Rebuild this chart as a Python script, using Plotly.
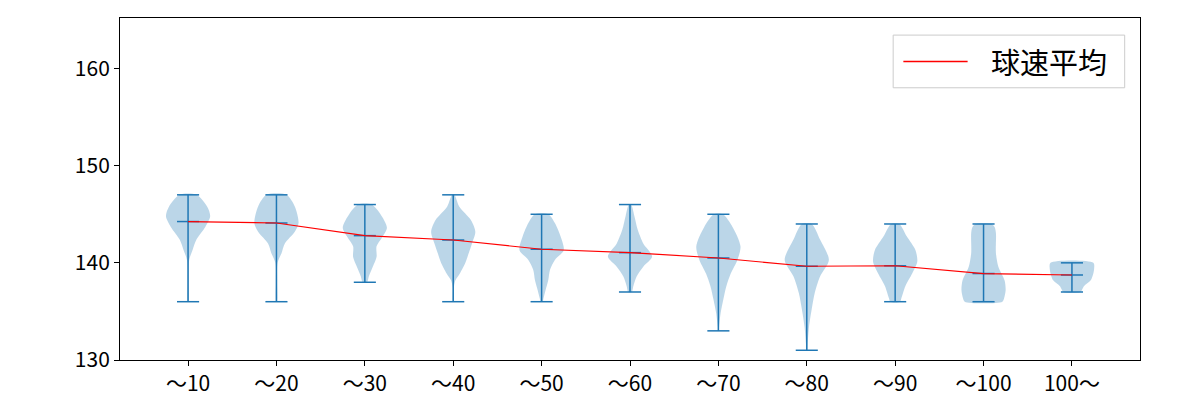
import plotly.graph_objects as go

categories = ["～10", "～20", "～30", "～40", "～50", "～60", "～70", "～80", "～90", "～100", "100～"]
mins = [136, 136, 138, 136, 136, 137, 133, 131, 136, 136, 137]
maxs = [147, 147, 146, 147, 145, 146, 145, 144, 144, 144, 140]
means = [144.25, 144.1, 142.8, 142.35, 141.4, 141.05, 140.5, 139.65, 139.7, 138.9, 138.75]

# density profiles (speed level -> relative width)
shape_levels = [
    [136, 138, 140.3, 141.3, 142.4, 143.7, 144.8, 145.8, 147],
    [136, 138, 140.0, 141.0, 142.0, 143.2, 144.1, 145.8, 147],
    [138, 138.6, 139.6, 140.6, 141.7, 142.5, 143.6, 145.1, 146],
    [136, 137.5, 138.2, 138.9, 140.0, 141.0, 142.0, 143.2, 144.4, 145.8, 147],
    [136, 136.3, 137.2, 138.2, 139.3, 140.3, 141.3, 142.7, 144.1, 145],
    [137, 137.6, 138.6, 139.6, 140.65, 142.0, 143.4, 144.8, 146],
    [133, 133.4, 134.8, 136.2, 137.6, 138.9, 140.3, 141.7, 143.7, 145],
    [131, 131.7, 133.4, 135.2, 136.9, 138.6, 140.3, 142.4, 144],
    [136, 136.35, 137.6, 138.9, 140.1, 141.3, 142.7, 144],
    [136, 136.35, 137.2, 138.2, 139.6, 141.0, 143.05, 143.7, 144],
    [137, 137.6, 138.2, 139.3, 140],
]
shape_widths = [
    [0.02, 0.03, 0.05, 0.2, 0.38, 0.78, 1.0, 0.86, 0.38],
    [0.02, 0.03, 0.05, 0.23, 0.38, 0.83, 1.0, 0.83, 0.45],
    [0.1, 0.18, 0.36, 0.53, 0.53, 0.75, 1.0, 0.68, 0.3],
    [0.02, 0.03, 0.1, 0.3, 0.55, 0.7, 0.85, 1.0, 0.8, 0.27, 0.05],
    [0.05, 0.08, 0.18, 0.3, 0.38, 0.6, 1.0, 0.86, 0.6, 0.3],
    [0.08, 0.15, 0.3, 0.6, 1.0, 0.6, 0.35, 0.2, 0.05],
    [0.02, 0.03, 0.1, 0.22, 0.36, 0.56, 0.86, 1.0, 0.64, 0.2],
    [0.02, 0.04, 0.1, 0.22, 0.36, 0.6, 1.0, 0.6, 0.22],
    [0.22, 0.28, 0.46, 0.77, 1.0, 0.92, 0.53, 0.18],
    [0.85, 0.93, 1.0, 0.95, 0.67, 0.56, 0.56, 0.5, 0.35],
    [0.38, 0.54, 0.85, 1.0, 0.97],
]
legend_label = "球速平均"

BLUE = "#1f77b4"
FILL = "rgba(31,119,180,0.3)"
HALF = 0.25   # half of violin width (widths=0.5)
CAP = 0.125   # half length of caps
FONT = "Noto Sans CJK JP, Noto Sans, sans-serif"

positions = list(range(1, len(categories) + 1))
fig = go.Figure()

for p, lv, wd in zip(positions, shape_levels, shape_widths):
    xs = [p + HALF * w for w in wd] + [p - HALF * w for w in reversed(wd)]
    ys = list(lv) + list(reversed(lv))
    xs.append(xs[0]); ys.append(ys[0])
    fig.add_trace(go.Scatter(x=xs, y=ys, mode="lines", fill="toself",
                             fillcolor=FILL, line=dict(width=0, shape="spline", smoothing=0.8),
                             hoverinfo="skip", showlegend=False))

# whiskers, caps and mean ticks
lx, ly = [], []
for p, lo, hi, m in zip(positions, mins, maxs, means):
    lx += [p, p, None, p - CAP, p + CAP, None, p - CAP, p + CAP, None, p - CAP, p + CAP, None]
    ly += [lo, hi, None, lo, lo, None, hi, hi, None, m, m, None]
fig.add_trace(go.Scatter(x=lx, y=ly, mode="lines", line=dict(color=BLUE, width=1.5),
                         hoverinfo="skip", showlegend=False))

fig.add_trace(go.Scatter(x=positions, y=means, mode="lines", line=dict(color="red", width=1.2),
                         name=legend_label, showlegend=False))

# legend box drawn as in reference
fig.add_shape(type="rect", xref="paper", yref="paper", x0=0.758, x1=0.985, y0=0.796, y1=0.950,
              line=dict(color="#cccccc", width=1), fillcolor="rgba(255,255,255,0.8)", layer="above")
fig.add_shape(type="line", xref="paper", yref="paper", x0=0.768, x1=0.831, y0=0.873, y1=0.873,
              line=dict(color="red", width=1.5), layer="above")
fig.add_annotation(xref="paper", yref="paper", x=0.852, y=0.873, xanchor="left", yanchor="middle",
                   text=legend_label, showarrow=False, font=dict(family=FONT, size=29, color="black"))

fig.update_layout(
    width=1200, height=400,
    margin=dict(l=120, r=60, t=18, b=40, autoexpand=False),
    plot_bgcolor="white", paper_bgcolor="white",
    font=dict(family=FONT, size=21, color="black"),
    showlegend=False,
)
fig.update_xaxes(range=[0.23, 11.77], tickmode="array", tickvals=positions, ticktext=categories,
                 automargin=False,
                 showline=True, linecolor="black", linewidth=1, mirror=True,
                 ticks="outside", ticklen=5, tickcolor="black", showgrid=False, zeroline=False)
fig.update_yaxes(range=[130, 165.2], tickvals=[130, 140, 150, 160], automargin=False,
                 showline=True, linecolor="black", linewidth=1, mirror=True,
                 ticks="outside", ticklen=5, tickcolor="black", showgrid=False, zeroline=False)

fig.write_html("out.html")
